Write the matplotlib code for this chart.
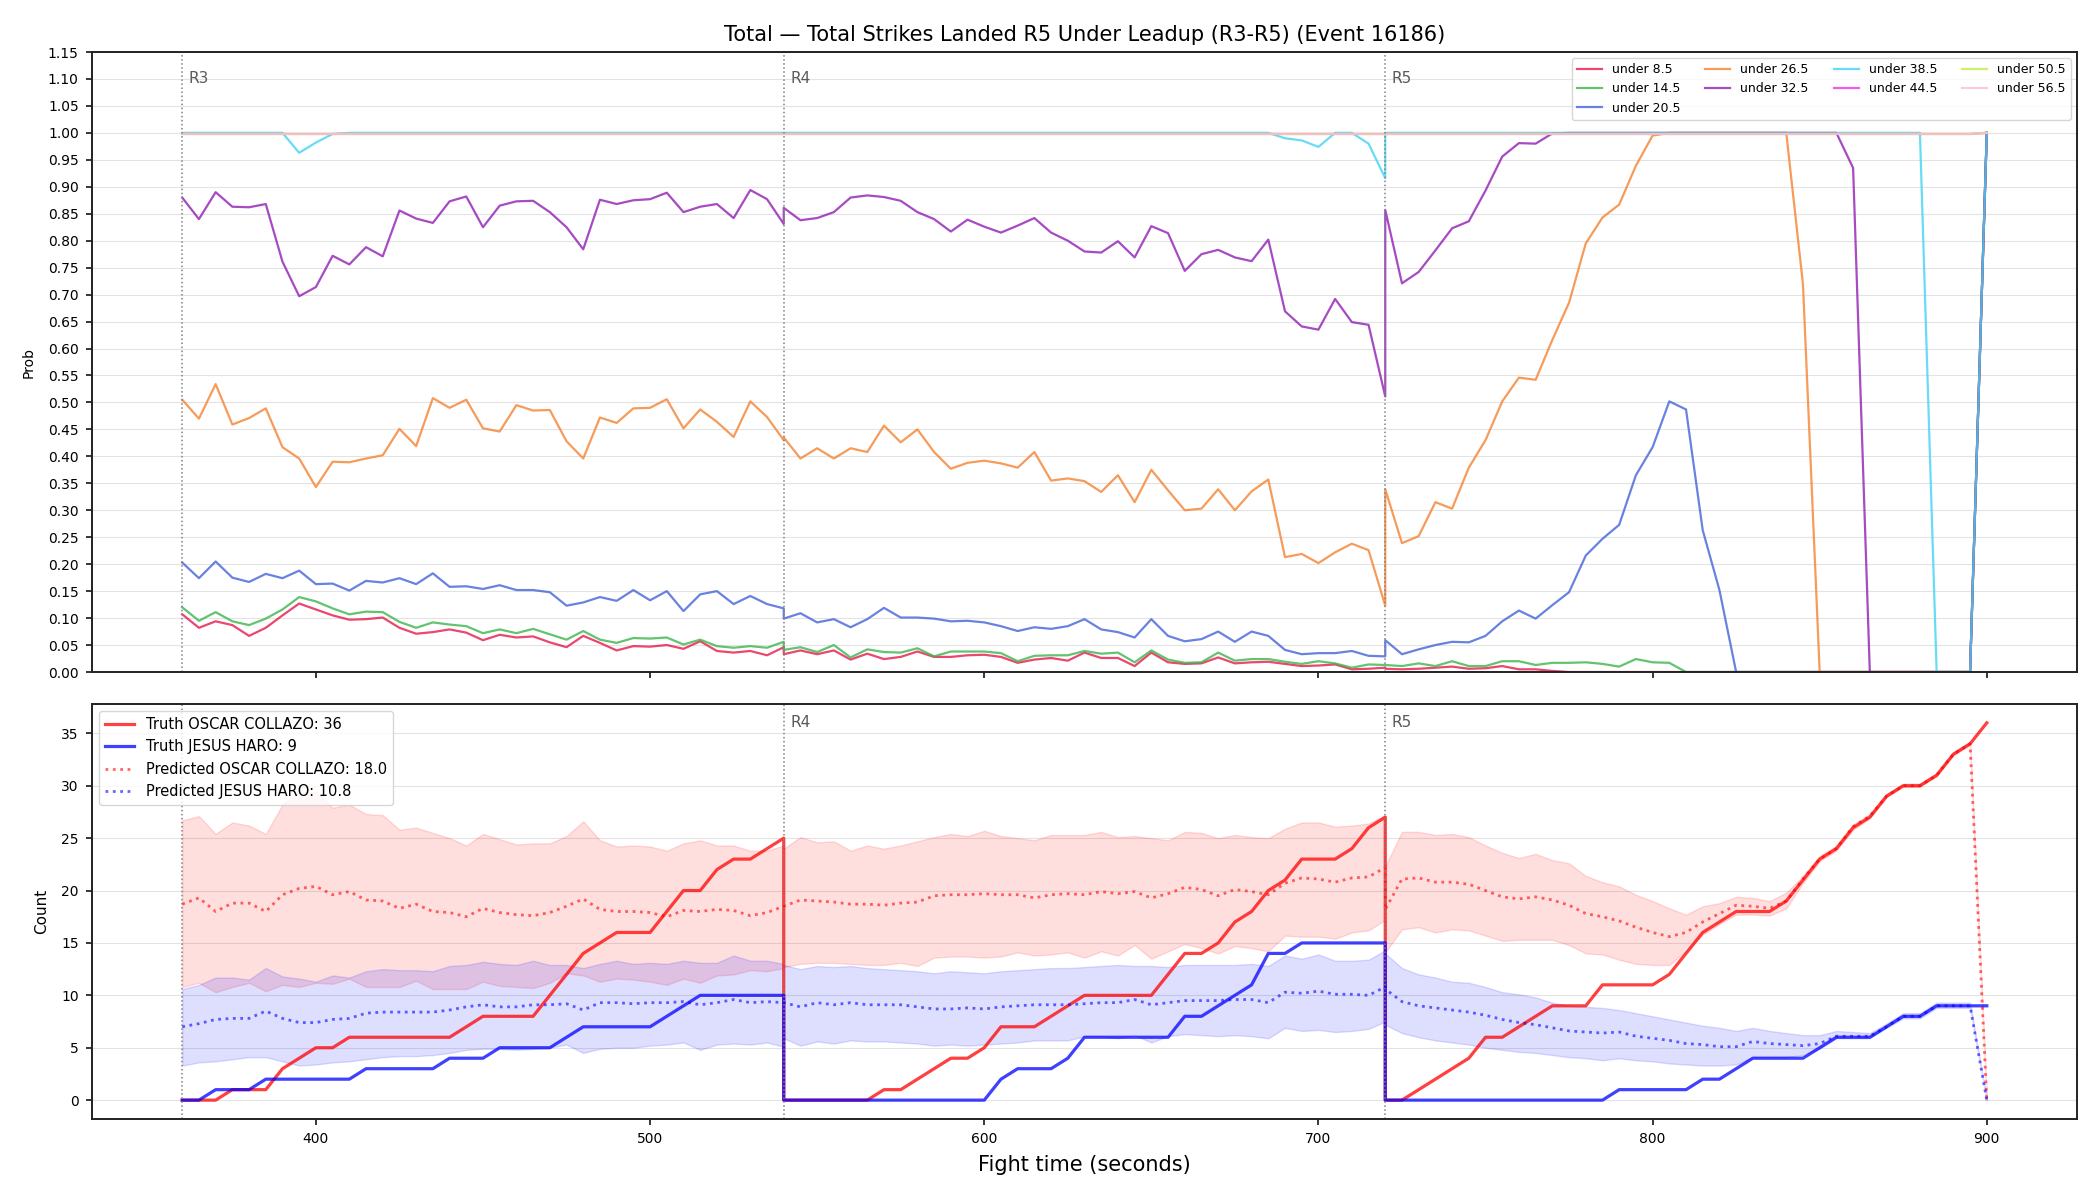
import matplotlib
matplotlib.use("Agg")
import matplotlib.pyplot as plt
from matplotlib.ticker import FormatStrFormatter

# ---------------- data ----------------
round_starts = [360, 540, 720]
round_labels = ["R3", "R4", "R5"]
step = 5
# sample times: each round has its own 37 samples (boundaries repeated)
times = []
for rs in round_starts:
    times += list(range(rs, rs + 181, step))

u8_5 = ([0.107, 0.082, 0.094, 0.087, 0.067, 0.082, 0.105, 0.127, 0.116, 0.105, 0.097, 0.098, 0.101, 0.082, 0.071, 0.074, 0.079, 0.073, 0.059, 0.069, 0.064, 0.066, 0.055, 0.046, 0.067, 0.054, 0.040, 0.048, 0.047, 0.050, 0.043, 0.057, 0.039, 0.036, 0.039, 0.031, 0.046]
        + [0.033, 0.040, 0.033, 0.040, 0.023, 0.034, 0.024, 0.028, 0.038, 0.028, 0.028, 0.031, 0.032, 0.028, 0.017, 0.023, 0.026, 0.021, 0.036, 0.026, 0.026, 0.011, 0.036, 0.018, 0.015, 0.016, 0.027, 0.016, 0.018, 0.019, 0.015, 0.011, 0.012, 0.014, 0.005, 0.006, 0.008]
        + [0.006, 0.005, 0.006, 0.008, 0.010, 0.006, 0.007, 0.011, 0.005, 0.005, 0.002] + [0.0] * 25 + [1.0])
u14_5 = ([0.120, 0.095, 0.111, 0.094, 0.087, 0.099, 0.116, 0.139, 0.131, 0.118, 0.107, 0.112, 0.111, 0.093, 0.082, 0.092, 0.088, 0.085, 0.072, 0.079, 0.072, 0.080, 0.070, 0.060, 0.076, 0.060, 0.054, 0.063, 0.062, 0.064, 0.051, 0.060, 0.048, 0.045, 0.048, 0.045, 0.056]
         + [0.041, 0.046, 0.037, 0.050, 0.027, 0.042, 0.037, 0.036, 0.044, 0.029, 0.038, 0.038, 0.038, 0.035, 0.020, 0.030, 0.031, 0.031, 0.039, 0.034, 0.036, 0.018, 0.040, 0.023, 0.017, 0.018, 0.036, 0.021, 0.024, 0.024, 0.019, 0.015, 0.020, 0.016, 0.008, 0.014, 0.013]
         + [0.013, 0.011, 0.016, 0.011, 0.020, 0.011, 0.011, 0.020, 0.020, 0.013, 0.017, 0.017, 0.018, 0.015, 0.010, 0.024, 0.018, 0.017] + [0.0] * 18 + [1.0])
u20_5 = ([0.203, 0.174, 0.205, 0.175, 0.167, 0.182, 0.174, 0.188, 0.163, 0.164, 0.151, 0.169, 0.166, 0.174, 0.163, 0.183, 0.158, 0.159, 0.154, 0.161, 0.152, 0.152, 0.148, 0.123, 0.129, 0.139, 0.132, 0.152, 0.133, 0.150, 0.113, 0.144, 0.150, 0.126, 0.141, 0.126, 0.118]
         + [0.099, 0.109, 0.092, 0.098, 0.083, 0.098, 0.119, 0.101, 0.101, 0.099, 0.094, 0.095, 0.092, 0.085, 0.076, 0.083, 0.080, 0.085, 0.098, 0.079, 0.074, 0.064, 0.098, 0.067, 0.057, 0.061, 0.075, 0.056, 0.075, 0.067, 0.041, 0.033, 0.035, 0.035, 0.039, 0.030, 0.029]
         + [0.059, 0.033, 0.042, 0.050, 0.056, 0.055, 0.067, 0.094, 0.114, 0.099, 0.124, 0.148, 0.216, 0.247, 0.273, 0.365, 0.417, 0.502, 0.487, 0.263, 0.152] + [0.0] * 15 + [1.0])
u26_5 = ([0.505, 0.470, 0.534, 0.459, 0.471, 0.489, 0.417, 0.396, 0.343, 0.390, 0.389, 0.396, 0.402, 0.451, 0.419, 0.508, 0.490, 0.505, 0.452, 0.446, 0.495, 0.485, 0.486, 0.428, 0.396, 0.472, 0.462, 0.489, 0.490, 0.506, 0.452, 0.487, 0.464, 0.436, 0.502, 0.473, 0.430]
         + [0.435, 0.396, 0.415, 0.396, 0.415, 0.408, 0.457, 0.426, 0.450, 0.408, 0.377, 0.388, 0.392, 0.387, 0.379, 0.408, 0.355, 0.359, 0.354, 0.334, 0.365, 0.315, 0.375, 0.337, 0.300, 0.303, 0.339, 0.300, 0.335, 0.357, 0.213, 0.219, 0.202, 0.222, 0.238, 0.226, 0.123]
         + [0.339, 0.239, 0.252, 0.315, 0.303, 0.379, 0.430, 0.502, 0.546, 0.542, 0.616, 0.685, 0.795, 0.843, 0.867, 0.939, 0.995] + [1.0] * 8 + [0.719] + [0.0] * 10 + [1.0])
u32_5 = ([0.880, 0.840, 0.890, 0.863, 0.862, 0.868, 0.761, 0.697, 0.714, 0.772, 0.756, 0.788, 0.771, 0.856, 0.841, 0.833, 0.873, 0.882, 0.825, 0.865, 0.873, 0.874, 0.853, 0.825, 0.784, 0.876, 0.868, 0.875, 0.877, 0.889, 0.853, 0.863, 0.868, 0.842, 0.894, 0.877, 0.831]
         + [0.861, 0.838, 0.842, 0.853, 0.880, 0.884, 0.881, 0.874, 0.853, 0.840, 0.817, 0.839, 0.826, 0.815, 0.828, 0.842, 0.815, 0.800, 0.780, 0.778, 0.799, 0.769, 0.827, 0.814, 0.744, 0.775, 0.783, 0.769, 0.762, 0.802, 0.669, 0.641, 0.635, 0.692, 0.649, 0.644, 0.511]
         + [0.857, 0.721, 0.742, 0.782, 0.823, 0.836, 0.893, 0.956, 0.981, 0.980, 0.999] + [1.0] * 17 + [0.935] + [0.0] * 7 + [1.0])
u38_5 = ([1.0] * 7 + [0.963, 0.982, 0.998] + [1.0] * 27
         + [1.0] * 30 + [0.990, 0.986, 0.974, 1.0, 1.0, 0.980, 0.916]
         + [1.0] * 33 + [0.0] * 3 + [1.0])
u44_5 = [0.998] * 110 + [1.0]
u50_5 = [0.998] * 110 + [1.0]
u56_5 = [0.998] * 110 + [1.0]

line_names = ["under 8.5", "under 14.5", "under 20.5", "under 26.5", "under 32.5",
              "under 38.5", "under 44.5", "under 50.5", "under 56.5"]
line_values = [u8_5, u14_5, u20_5, u26_5, u32_5, u38_5, u44_5, u50_5, u56_5]
line_colors = ["#e6194b", "#3cb44b", "#4363d8", "#f58231", "#911eb4",
               "#42d4f4", "#f032e6", "#bfef45", "#fabed4"]

truth_red = ([0, 0, 0, 1, 1, 1, 3, 4, 5, 5, 6, 6, 6, 6, 6, 6, 6, 7, 8, 8, 8, 8, 10, 12, 14, 15, 16, 16, 16, 18, 20, 20, 22, 23, 23, 24, 25]
             + [0, 0, 0, 0, 0, 0, 1, 1, 2, 3, 4, 4, 5, 7, 7, 7, 8, 9, 10, 10, 10, 10, 10, 12, 14, 14, 15, 17, 18, 20, 21, 23, 23, 23, 24, 26, 27]
             + [0, 0, 1, 2, 3, 4, 6, 6, 7, 8, 9, 9, 9, 11, 11, 11, 11, 12, 14, 16, 17, 18, 18, 18, 19, 21, 23, 24, 26, 27, 29, 30, 30, 31, 33, 34, 36])
truth_blue = ([0, 0, 1, 1, 1, 2, 2, 2, 2, 2, 2, 3, 3, 3, 3, 3, 4, 4, 4, 5, 5, 5, 5, 6, 7, 7, 7, 7, 7, 8, 9, 10, 10, 10, 10, 10, 10]
              + [0] * 13 + [2, 3, 3, 3, 4, 6, 6, 6, 6, 6, 6, 8, 8, 9, 10, 11, 14, 14, 15, 15, 15, 15, 15, 15]
              + [0] * 14 + [1, 1, 1, 1, 1, 2, 2, 3, 4, 4, 4, 4, 5, 6, 6, 6, 7, 8, 8, 9, 9, 9, 9])

pred_red = ([18.7, 19.3, 18.0, 18.8, 18.8, 18.0, 19.6, 20.2, 20.4, 19.6, 19.9, 19.1, 19.0, 18.3, 18.7, 18.0, 17.9, 17.5, 18.3, 17.9, 17.7, 17.6, 17.9, 18.5, 19.2, 18.2, 18.0, 18.0, 17.9, 17.5, 18.1, 18.0, 18.2, 18.1, 17.6, 17.9, 18.5]
            + [18.5, 19.1, 19.0, 18.9, 18.7, 18.7, 18.6, 18.8, 18.9, 19.5, 19.6, 19.6, 19.7, 19.6, 19.6, 19.3, 19.6, 19.7, 19.6, 19.9, 19.7, 19.9, 19.3, 19.7, 20.3, 20.1, 19.5, 20.1, 19.9, 19.6, 20.7, 21.2, 21.1, 20.8, 21.2, 21.3, 22.2]
            + [18.2, 21.1, 21.2, 20.8, 20.8, 20.6, 20.0, 19.4, 19.2, 19.4, 19.1, 18.6, 17.8, 17.5, 17.1, 16.5, 16.0, 15.6, 16.0, 17.0, 17.8, 18.6, 18.5, 18.3, 19.0, 21.1, 23.0, 24.0, 26.1, 27.1, 29.0, 30.0, 30.0, 31.0, 33.0, 34.0, 0.0])
pred_red_hi = ([26.7, 27.1, 25.4, 26.5, 26.2, 25.4, 28.2, 29.4, 29.4, 27.9, 28.2, 27.3, 27.2, 25.8, 26.0, 25.5, 25.0, 24.3, 25.4, 24.9, 24.4, 24.5, 24.5, 25.2, 26.6, 24.8, 24.2, 24.3, 24.2, 23.8, 24.5, 24.8, 24.3, 24.3, 23.8, 23.8, 24.3]
               + [24.0, 25.1, 24.6, 24.7, 23.8, 24.3, 24.0, 24.3, 24.7, 25.1, 25.4, 25.2, 25.7, 25.2, 25.0, 24.8, 25.3, 25.3, 25.3, 25.6, 25.1, 25.2, 25.0, 24.8, 25.6, 25.5, 25.0, 25.3, 25.1, 25.0, 25.9, 26.5, 26.5, 26.1, 26.2, 26.4, 27.2]
               + [22.3, 25.6, 25.6, 25.3, 25.4, 25.1, 24.3, 23.6, 23.1, 23.5, 22.9, 22.6, 21.4, 20.8, 20.4, 19.6, 19.0, 18.3, 17.7, 18.5, 18.8, 19.4, 19.3, 19.0, 19.8, 21.4, 23.3, 24.3, 26.3, 27.3, 29.2, 30.2, 30.2, 31.2, 33.2, 34.2, 0.0])
pred_red_lo = ([10.8, 11.2, 10.3, 10.8, 11.2, 10.4, 11.0, 10.8, 11.2, 11.1, 11.6, 10.8, 10.8, 10.8, 11.4, 10.6, 10.6, 10.6, 11.3, 10.9, 10.8, 10.7, 11.2, 12.1, 11.9, 11.3, 11.6, 11.5, 11.3, 11.0, 11.6, 11.2, 11.9, 12.0, 12.4, 12.3, 12.6]
               + [12.7, 13.0, 13.1, 13.1, 13.0, 12.9, 12.9, 13.1, 12.8, 13.6, 13.7, 13.7, 13.6, 13.7, 14.1, 13.8, 13.9, 14.1, 13.6, 14.2, 13.8, 14.8, 13.5, 14.2, 14.9, 14.5, 14.0, 14.7, 14.5, 14.2, 15.7, 15.6, 15.6, 15.4, 16.0, 16.2, 17.2]
               + [14.1, 16.3, 16.5, 16.0, 16.3, 16.2, 15.7, 15.2, 15.3, 15.3, 15.3, 14.8, 14.0, 13.9, 13.4, 13.0, 12.9, 12.9, 14.2, 15.8, 16.8, 17.7, 17.7, 17.6, 18.3, 20.7, 22.8, 23.8, 25.8, 26.9, 28.9, 29.9, 29.9, 30.9, 32.9, 33.9, 0.0])
pred_blue = ([7.0, 7.3, 7.7, 7.8, 7.8, 8.5, 7.8, 7.4, 7.4, 7.7, 7.8, 8.3, 8.4, 8.4, 8.4, 8.4, 8.6, 8.9, 9.1, 8.9, 8.9, 9.1, 9.1, 9.2, 8.6, 9.3, 9.3, 9.2, 9.3, 9.3, 9.4, 9.1, 9.3, 9.6, 9.3, 9.4, 9.3]
             + [9.3, 8.9, 9.3, 9.1, 9.3, 9.1, 9.1, 9.1, 8.9, 8.7, 8.7, 8.8, 8.7, 8.9, 9.0, 9.1, 9.1, 9.1, 9.2, 9.3, 9.3, 9.6, 9.1, 9.3, 9.5, 9.5, 9.5, 9.6, 9.6, 9.3, 10.3, 10.2, 10.4, 10.1, 10.1, 10.0, 10.8]
             + [10.6, 9.4, 9.0, 8.8, 8.6, 8.4, 8.1, 7.7, 7.4, 7.2, 6.9, 6.6, 6.5, 6.4, 6.5, 6.1, 5.9, 5.7, 5.4, 5.3, 5.1, 5.1, 5.6, 5.4, 5.3, 5.2, 5.4, 6.1, 6.1, 6.1, 7.0, 8.0, 8.0, 9.0, 9.0, 9.0, 0.0])
pred_blue_hi = ([10.6, 11.0, 11.7, 11.7, 11.5, 12.6, 11.8, 11.6, 11.3, 11.9, 11.7, 12.3, 12.5, 12.4, 12.4, 12.3, 12.8, 12.9, 13.2, 13.0, 12.9, 13.3, 12.9, 12.9, 12.6, 13.0, 13.3, 13.0, 13.1, 13.0, 13.3, 13.1, 13.1, 13.8, 13.3, 13.3, 13.0]
                + [12.9, 12.5, 12.8, 12.7, 12.8, 12.6, 12.5, 12.4, 12.3, 12.1, 12.3, 12.2, 12.1, 12.3, 12.4, 12.5, 12.6, 12.6, 12.7, 12.8, 12.9, 12.8, 12.8, 12.7, 12.9, 12.9, 12.9, 12.9, 13.0, 12.8, 13.8, 13.5, 13.9, 13.3, 13.3, 13.4, 14.3]
                + [14.0, 12.6, 12.0, 11.7, 11.3, 11.2, 10.8, 10.3, 10.1, 9.8, 9.3, 9.0, 8.9, 8.8, 8.6, 8.3, 8.0, 7.7, 7.4, 7.1, 6.9, 6.6, 6.9, 6.6, 6.4, 6.2, 6.2, 6.6, 6.5, 6.4, 7.3, 8.3, 8.3, 9.3, 9.3, 9.3, 0.0])
pred_blue_lo = ([3.3, 3.6, 3.7, 3.9, 4.1, 4.1, 3.7, 3.3, 3.4, 3.6, 3.7, 3.9, 4.1, 4.2, 4.2, 4.3, 4.5, 4.8, 4.9, 4.9, 4.8, 4.9, 5.0, 5.3, 4.5, 4.9, 5.0, 5.0, 5.2, 5.3, 5.5, 4.8, 5.3, 5.4, 5.3, 5.5, 5.1]
                + [5.9, 5.2, 5.6, 5.4, 5.7, 5.6, 5.6, 5.5, 5.4, 5.2, 5.3, 5.2, 5.3, 5.4, 5.5, 5.7, 5.7, 5.7, 6.1, 6.1, 5.9, 6.2, 5.5, 6.1, 6.3, 6.2, 6.1, 6.2, 6.1, 5.9, 6.9, 6.6, 6.7, 6.5, 6.6, 6.8, 7.5]
                + [7.2, 6.4, 6.0, 5.7, 5.5, 5.3, 5.0, 4.8, 4.6, 4.5, 4.3, 4.1, 4.0, 3.8, 4.0, 3.8, 3.7, 3.5, 3.4, 3.3, 3.3, 3.4, 4.1, 4.1, 4.1, 4.3, 4.9, 5.9, 5.9, 5.9, 6.9, 7.8, 7.8, 8.8, 8.8, 8.8, 0.0])

title = "Total \u2014 Total Strikes Landed R5 Under Leadup (R3-R5) (Event 16186)"
red_name, blue_name = "OSCAR COLLAZO", "JESUS HARO"
red_final, blue_final = 36, 9
red_pred_label, blue_pred_label = 18.0, 10.8

_series = {"u8_5": u8_5, "u14_5": u14_5, "u20_5": u20_5, "u26_5": u26_5, "u32_5": u32_5,
           "u38_5": u38_5, "truth_red": truth_red, "truth_blue": truth_blue,
           "pred_red": pred_red, "pred_red_hi": pred_red_hi, "pred_red_lo": pred_red_lo,
           "pred_blue": pred_blue, "pred_blue_hi": pred_blue_hi, "pred_blue_lo": pred_blue_lo}
_bad = {k: len(v) for k, v in _series.items() if len(v) != len(times)}
if _bad:
    raise ValueError(f"length mismatch (times={len(times)}): {_bad}")

# ---------------- figure ----------------
W, H = 2100, 1200
fig = plt.figure(figsize=(21, 12), dpi=100)
L, R = 92, 2077
ax1 = fig.add_axes([L / W, 1 - 672 / H, (R - L) / W, (672 - 52) / H])
ax2 = fig.add_axes([L / W, 1 - 1119 / H, (R - L) / W, (1119 - 704) / H], sharex=ax1)

for ax in (ax1, ax2):
    for sp in ax.spines.values():
        sp.set_linewidth(1.4)
        sp.set_color("#222222")
    ax.grid(axis="y", color="#b0b0b0", alpha=0.35, linewidth=0.8)
    ax.set_axisbelow(True)
    ax.tick_params(labelsize=10, width=1.1, length=4.5, pad=5)

# top panel
for name, vals, col in zip(line_names, line_values, line_colors):
    ax1.plot(times, vals, color=col, alpha=0.8, linewidth=1.6, label=name)

ax1.set_ylim(0, 1.15)
ax1.set_yticks([i * 0.05 for i in range(24)])
ax1.yaxis.set_major_formatter(FormatStrFormatter("%.2f"))
ax1.set_ylabel("Prob", fontsize=10, labelpad=8.5)
ax1.set_title(title, fontsize=15, pad=8)
ax1.legend(loc="upper right", ncol=4, fontsize=9)
plt.setp(ax1.get_xticklabels(), visible=False)

for rs, rl in zip(round_starts, round_labels):
    ax1.axvline(rs, color="gray", linestyle=":", linewidth=1.1)
    ax1.text(rs + 2, 1.10, rl, color="#5a5a5a", fontsize=11, va="center", ha="left")

# bottom panel
ax2.fill_between(times, pred_red_lo, pred_red_hi, color="red", alpha=0.13)
ax2.fill_between(times, pred_blue_lo, pred_blue_hi, color="blue", alpha=0.13)
ax2.plot(times, truth_red, color="red", alpha=0.75, linewidth=2.3,
         label=f"Truth {red_name}: {red_final}")
ax2.plot(times, truth_blue, color="blue", alpha=0.75, linewidth=2.3,
         label=f"Truth {blue_name}: {blue_final}")
ax2.plot(times, pred_red, color="red", alpha=0.6, linewidth=2, linestyle=":",
         label=f"Predicted {red_name}: {red_pred_label:.1f}")
ax2.plot(times, pred_blue, color="blue", alpha=0.6, linewidth=2, linestyle=":",
         label=f"Predicted {blue_name}: {blue_pred_label:.1f}")

ax2.set_yticks(list(range(0, 36, 5)))
ax2.set_ylabel("Count", fontsize=11, labelpad=9)
ax2.set_xlabel("Fight time (seconds)", fontsize=15, labelpad=6)
ax2.set_xticks(list(range(400, 901, 100)))
for rs, rl in zip(round_starts, round_labels):
    ax2.axvline(rs, color="gray", linestyle=":", linewidth=1.1)
    if rs != round_starts[0]:  # the first label sits hidden under the legend
        ax2.text(rs + 2, 36.0, rl, color="#5a5a5a", fontsize=11, va="center", ha="left")
leg2 = ax2.legend(loc="upper left", fontsize=10.5)
leg2.set_zorder(10)

fig.savefig("out.png", dpi=100)
